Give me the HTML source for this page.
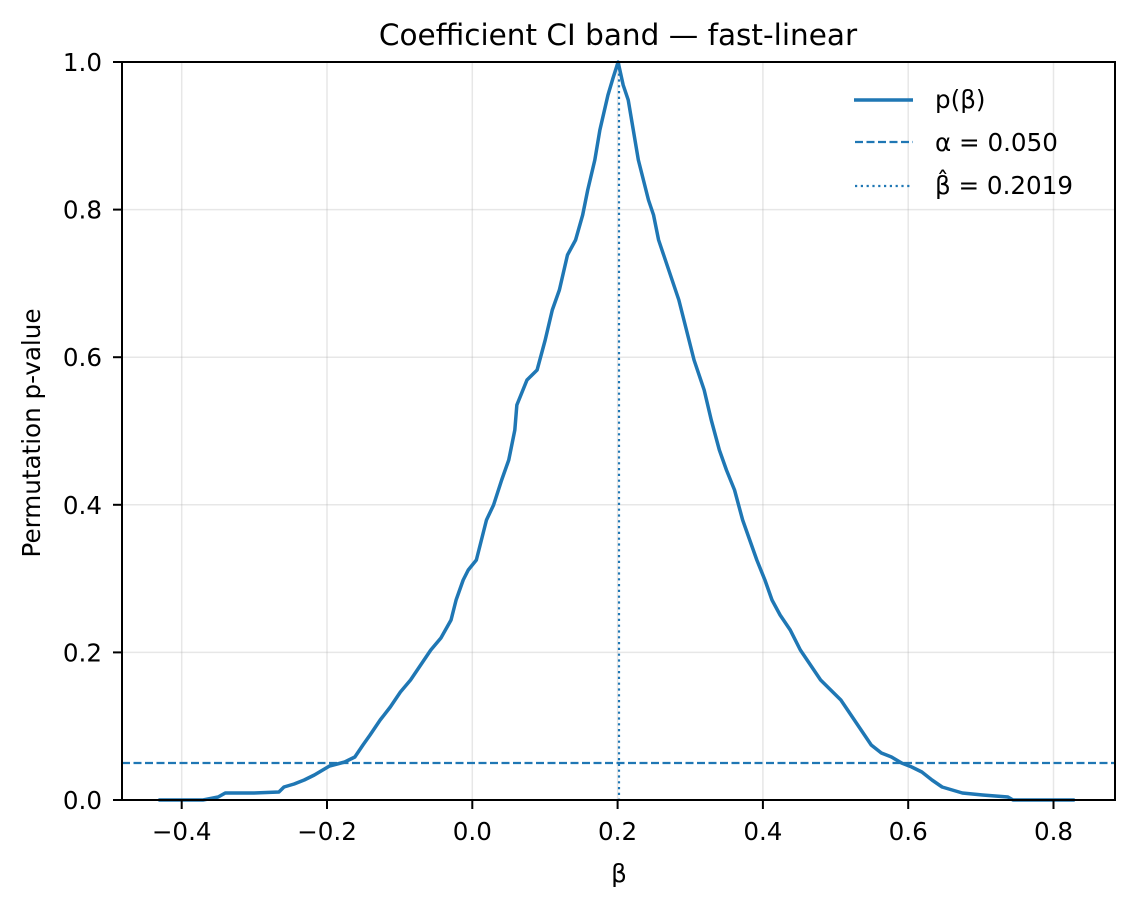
<!DOCTYPE html>
<html><head><meta charset="utf-8"><style>body{margin:0;background:#fff}svg{display:block}text{font-family:"DejaVu Sans","Liberation Sans",sans-serif;fill:#000}</style></head>
<body>
<svg width="1134" height="908" viewBox="0 0 1134 908" xmlns="http://www.w3.org/2000/svg">
<rect width="1134" height="908" fill="#fff"/>
<g stroke="#b0b0b0" stroke-opacity="0.3" stroke-width="1.5">
<line x1="181.7" y1="62" x2="181.7" y2="800"/><line x1="327" y1="62" x2="327" y2="800"/><line x1="472.3" y1="62" x2="472.3" y2="800"/><line x1="617.6" y1="62" x2="617.6" y2="800"/><line x1="762.9" y1="62" x2="762.9" y2="800"/><line x1="908.2" y1="62" x2="908.2" y2="800"/><line x1="1053.5" y1="62" x2="1053.5" y2="800"/>
<line x1="122" y1="652.4" x2="1115" y2="652.4"/><line x1="122" y1="504.8" x2="1115" y2="504.8"/><line x1="122" y1="357.2" x2="1115" y2="357.2"/><line x1="122" y1="209.6" x2="1115" y2="209.6"/>
</g>
<polyline fill="none" stroke="#1f77b4" stroke-width="3.5" stroke-linejoin="round" vector-effect="non-scaling-stroke" transform="matrix(1.0125 0 0 1 -9.65 0)" points="166,800 210,800 225,797 232,793 260,793 285,792 290,787 300,784 310,780 320,775 335,766 350,762 360,757 368,745 375,735 385,720 395,707 405,692 415,680 425,665 435,650 445,638 455,620 460,600 467,580 472,570 480,560 485,540 490,520 497,505 505,480 512,460 518,430 520,405 530,380 540,370 548,340 555,310 562,290 570,255 578,240 585,215 590,190 597,160 602,130 610,95 615,78 620,62 625,85 630,100 640,160 645,180 650,200 655,215 660,240 665,255 670,270 680,300 690,340 695,360 705,390 712,420 720,450 727,470 735,490 743,520 750,540 757,560 765,580 772,600 780,615 790,630 800,650 810,665 820,680 830,690 840,700 850,715 860,730 870,745 880,753 890,757 900,763 910,767 920,772 930,780 940,787 950,790 960,793 980,795 1005,797 1010,800 1071,800"/>
<line x1="122" y1="763" x2="1115" y2="763" stroke="#1f77b4" stroke-width="2.2" stroke-dasharray="8,3.5"/>
<line x1="619" y1="62" x2="619" y2="800" stroke="#1f77b4" stroke-width="2.2" stroke-dasharray="2.2,3.6"/>
<rect x="122" y="62" width="993" height="738" fill="none" stroke="#000" stroke-width="2"/>
<g stroke="#000" stroke-width="2">
<line x1="181.7" y1="800" x2="181.7" y2="809"/><line x1="327" y1="800" x2="327" y2="809"/><line x1="472.3" y1="800" x2="472.3" y2="809"/><line x1="617.6" y1="800" x2="617.6" y2="809"/><line x1="762.9" y1="800" x2="762.9" y2="809"/><line x1="908.2" y1="800" x2="908.2" y2="809"/><line x1="1053.5" y1="800" x2="1053.5" y2="809"/>
<line x1="113" y1="800" x2="122" y2="800"/><line x1="113" y1="652.4" x2="122" y2="652.4"/><line x1="113" y1="504.8" x2="122" y2="504.8"/><line x1="113" y1="357.2" x2="122" y2="357.2"/><line x1="113" y1="209.6" x2="122" y2="209.6"/><line x1="113" y1="62" x2="122" y2="62"/>
</g>
<g font-size="24.6" text-anchor="middle">
<text x="181.7" y="840">−0.4</text><text x="327" y="840">−0.2</text><text x="472.3" y="840">0.0</text><text x="617.6" y="840">0.2</text><text x="762.9" y="840">0.4</text><text x="908.2" y="840">0.6</text><text x="1053.5" y="840">0.8</text>
</g>
<g font-size="24.6" text-anchor="end">
<text x="102" y="809">0.0</text><text x="102" y="661.4">0.2</text><text x="102" y="513.8">0.4</text><text x="102" y="366.2">0.6</text><text x="102" y="218.6">0.8</text><text x="102" y="71">1.0</text>
</g>
<text x="619" y="882" font-size="24.6" text-anchor="middle">β</text>
<text x="40" y="433" font-size="24.6" text-anchor="middle" transform="rotate(-90 40 433)">Permutation p-value</text>
<text x="618" y="45" font-size="29.5" text-anchor="middle">Coefficient CI band — fast-linear</text>
<line x1="854" y1="100" x2="913" y2="100" stroke="#1f77b4" stroke-width="3.5"/>
<line x1="855" y1="142" x2="913" y2="142" stroke="#1f77b4" stroke-width="2.2" stroke-dasharray="8,3.5"/>
<line x1="855" y1="186" x2="913" y2="186" stroke="#1f77b4" stroke-width="2.2" stroke-dasharray="2.2,3.6"/>
<g font-size="24.6"><text x="935" y="108">p(β)</text><text x="935" y="151">α = 0.050</text><text x="935" y="194">β̂ = 0.2019</text></g>
</svg>
</body></html>
